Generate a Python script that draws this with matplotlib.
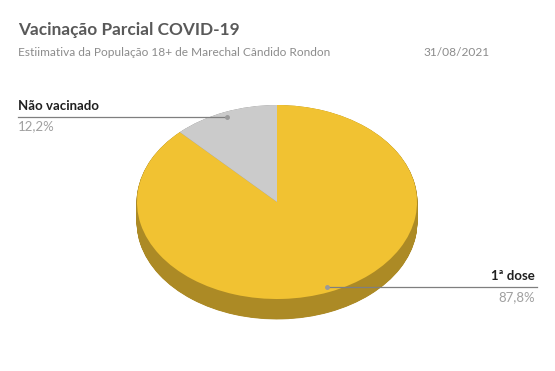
import numpy as np
import matplotlib
matplotlib.use("Agg")
import matplotlib.pyplot as plt
from matplotlib.lines import Line2D

W, H = 555, 371

labels  = ["1ª dose", "Não vacinado"]
values  = [87.8, 12.2]
pct_txt = ["87,8%", "12,2%"]

TOP_COLORS  = ["#F1C232", "#CBCBCB"]
SIDE_COLORS = ["#AC8A25", "#8F8F8F"]

plt.rcParams["font.family"] = ["Lato", "DejaVu Sans"]

fig = plt.figure(figsize=(W / 100, H / 100), dpi=100)
fig.patch.set_facecolor("white")

# pie axes: 1 unit in x = 140 px, 1 unit in y = 97 px (squashed ellipse)
cx, cy = 277, 202
ax_ = 140.0
by_ = 97.0
depth = 20 / by_
x0, x1 = -1.2, 1.2
y0, y1 = -1.5, 1.2
left_px = cx + x0 * ax_
top_px = cy - y1 * by_
ax = fig.add_axes([left_px / W, 1 - (top_px + (y1 - y0) * by_) / H,
                   (x1 - x0) * ax_ / W, (y1 - y0) * by_ / H])

# extruded side: stacked layers of the same pie
n_layers = 40
for i in range(n_layers, 0, -1):
    off = depth * i / n_layers
    ax.pie(values, colors=SIDE_COLORS, startangle=90, counterclock=False,
           center=(0, -off), radius=1.0,
           wedgeprops=dict(linewidth=0.6, edgecolor=None))
    for w, c in zip(ax.patches[-2:], SIDE_COLORS):
        w.set_edgecolor(c)

wedges, _ = ax.pie(values, colors=TOP_COLORS, startangle=90, counterclock=False,
                   center=(0, 0), radius=1.0, wedgeprops=dict(linewidth=0))

ax.set_aspect("auto")
ax.set_xlim(x0, x1)
ax.set_ylim(y0, y1)
ax.axis("off")

# title block
fig.text(18 / W, 1 - 30 / H, "Vacinação Parcial COVID-19", fontsize=12.4,
         fontweight="bold", color="#595959", va="center", ha="left")
fig.text(18 / W, 1 - 52 / H, "Estiimativa da População 18+ de Marechal Cândido Rondon",
         fontsize=8.6, color="#8C8C8C", va="center", ha="left")
fig.text(490 / W, 1 - 52 / H, "31/08/2021", fontsize=8.6, color="#8C8C8C",
         va="center", ha="right")

# leader lines and labels, anchored at each slice's mid-angle
fig.canvas.draw()
inv = fig.transFigure.inverted()
cum = np.cumsum([0] + values)
label_side = {"1ª dose": ("right", 537), "Não vacinado": ("left", 18)}
for lab, pt, a, b in zip(labels, pct_txt, cum[:-1], cum[1:]):
    mid = np.deg2rad(90 - (a + b) / 2 * 3.6)
    px, py = 0.95 * np.cos(mid), 0.95 * np.sin(mid)
    fx, fy = inv.transform(ax.transData.transform((px, py)))
    side, edge = label_side[lab]
    ex = edge / W
    fig.add_artist(Line2D([ex, fx], [fy, fy], transform=fig.transFigure,
                          color="#7F7F7F", linewidth=0.9))
    fig.add_artist(Line2D([fx], [fy], transform=fig.transFigure, marker="o",
                          markersize=2.5, color="#9A9A9A", linewidth=0))
    tx = ex if side == "left" else ex - 2 / W
    fig.text(tx, fy + 5 / H, lab, fontsize=9.5, fontweight="bold",
             color="#1F1F1F", ha=side, va="bottom")
    fig.text(tx, fy - 4 / H, pt, fontsize=9.5, color="#A0A0A0",
             ha=side, va="top")

fig.savefig("out.png", dpi=100, facecolor="white")
